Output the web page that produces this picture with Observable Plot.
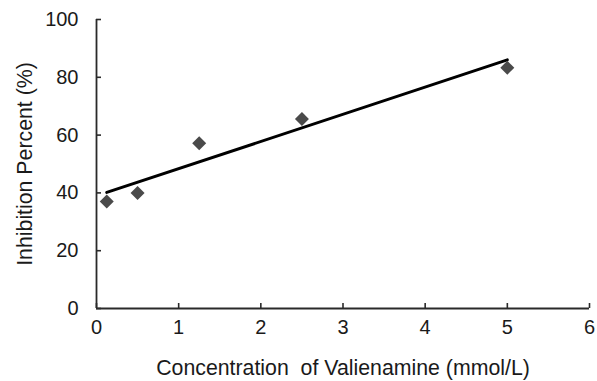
<!DOCTYPE html>
<html>
<head>
<meta charset="utf-8">
<script src="https://cdn.jsdelivr.net/npm/d3@7"></script>
<script src="https://cdn.jsdelivr.net/npm/@observablehq/plot@0.6"></script>
<style>
  html, body { margin: 0; padding: 0; background: #fff; }
  #chart svg { display: block; }
</style>
</head>
<body>
<div id="chart"></div>
<script>
const concentration = [0.125, 0.5, 1.25, 2.5, 5];
const inhibition = [37, 40, 57.2, 65.6, 83.3];
const xTicks = [0, 1, 2, 3, 4, 5, 6];
const yTicks = [0, 20, 40, 60, 80, 100];
const xTitle = "Concentration\u00a0 of Valienamine (mmol/L)";
const yTitle = "Inhibition Percent (%)";

const data = concentration.map((c, i) => ({x: c, y: inhibition[i]}));
const axisColor = "#2a2a2a";
const font = "Liberation Sans, Arial, sans-serif";
const blank = () => "";

const chart = Plot.plot({
  width: 597,
  height: 381,
  marginLeft: 96,
  marginRight: 8,
  marginTop: 19,
  marginBottom: 73,
  style: {fontFamily: font, fontSize: "20px", color: "#1a1a1a", background: "#fff"},
  x: {domain: [0, 6]},
  y: {domain: [0, 100]},
  marks: [
    // inward ticks
    Plot.axisX({ticks: xTicks, tickSize: 5, dy: -5, tickFormat: blank, label: null, stroke: axisColor, strokeWidth: 1.6}),
    Plot.axisY({ticks: yTicks, tickSize: 5, dx: 5, tickFormat: blank, label: null, stroke: axisColor, strokeWidth: 1.6}),
    // tick labels
    Plot.axisX({ticks: xTicks, tickSize: 0, tickPadding: 11, fontSize: 20, tickFormat: d => String(d), label: null}),
    Plot.axisY({ticks: yTicks, tickSize: 0, tickPadding: 14, dx: -4, fontSize: 20, tickFormat: d => String(d), label: null}),
    // titles
    Plot.axisX({ticks: [], tickSize: 0, fontSize: 21.3, label: xTitle, labelAnchor: "center", labelArrow: "none", labelOffset: 66, dx: -7}),
    Plot.axisY({ticks: [], tickSize: 0, fontSize: 21.3, label: yTitle, labelAnchor: "center", labelArrow: "none", labelOffset: 80}),
    Plot.ruleY([0], {stroke: axisColor, strokeWidth: 1.8}),
    Plot.ruleX([0], {stroke: axisColor, strokeWidth: 1.8}),
    Plot.linearRegressionY(data, {x: "x", y: "y", ci: 0, stroke: "#000", strokeWidth: 3}),
    Plot.dot(data, {x: "x", y: "y", symbol: "diamond2", r: 6.3, fill: "#4a4a4a", stroke: "none"})
  ]
});
document.getElementById("chart").appendChild(chart);
</script>
</body>
</html>
